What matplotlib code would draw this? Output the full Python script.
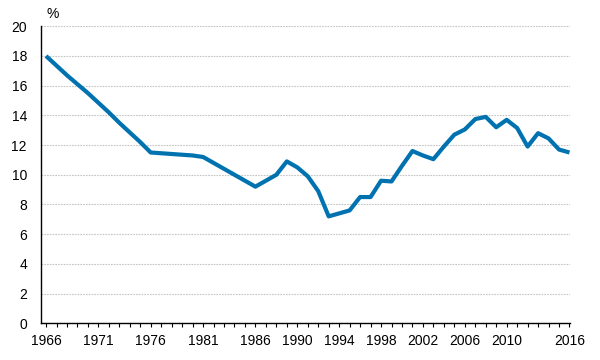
import matplotlib
matplotlib.use("Agg")
import matplotlib.pyplot as plt

plt.rcParams['font.family'] = ['Liberation Sans', 'DejaVu Sans']

years = list(range(1966, 2017))
values = [18.0, 17.35, 16.7, 16.1, 15.5, 14.85, 14.2, 13.5, 12.85, 12.2, 11.5,
          11.45, 11.4, 11.35, 11.3, 11.2,
          10.8, 10.4, 10.0, 9.6, 9.2,
          9.6, 10.0, 10.9, 10.5, 9.9, 8.9, 7.2, 7.4, 7.6, 8.5, 8.5, 9.6, 9.55,
          10.6, 11.6, 11.3, 11.05, 11.9, 12.7, 13.05, 13.75, 13.9, 13.2, 13.7,
          13.15, 11.9, 12.8, 12.45, 11.7, 11.5]
label_years = [1966, 1971, 1976, 1981, 1986, 1990, 1994, 1998, 2002, 2006, 2010, 2016]
y_ticks = [0, 2, 4, 6, 8, 10, 12, 14, 16, 18, 20]

fig = plt.figure(figsize=(6, 3.6), dpi=100)
ax = fig.add_axes([0.068, 0.102, 0.882, 0.825])

ax.plot(years, values, color='#0072B0', lw=3, solid_joinstyle='round',
        solid_capstyle='butt', zorder=3)

ax.set_xlim(1965.5, 2016.05)
ax.set_ylim(0, 20)
ax.set_yticks(y_ticks)
ax.set_xticks(years)
ax.set_xticklabels([str(y) if y in label_years else '' for y in years])

ax.grid(axis='y', color='#c4c4c4', linestyle=(0, (1.5, 1)), lw=0.8)
ax.set_axisbelow(True)
for s in ['top', 'right']:
    ax.spines[s].set_visible(False)
ax.spines['left'].set_linewidth(1.0)
ax.spines['bottom'].set_linewidth(1.0)

ax.tick_params(axis='y', length=0, pad=10, labelsize=10)
ax.tick_params(axis='x', length=3, width=0.8, direction='out', pad=5, labelsize=10)

fig.text(0.078, 0.961, '%', fontsize=10, ha='left', va='center')

fig.savefig('out.png', dpi=100)
